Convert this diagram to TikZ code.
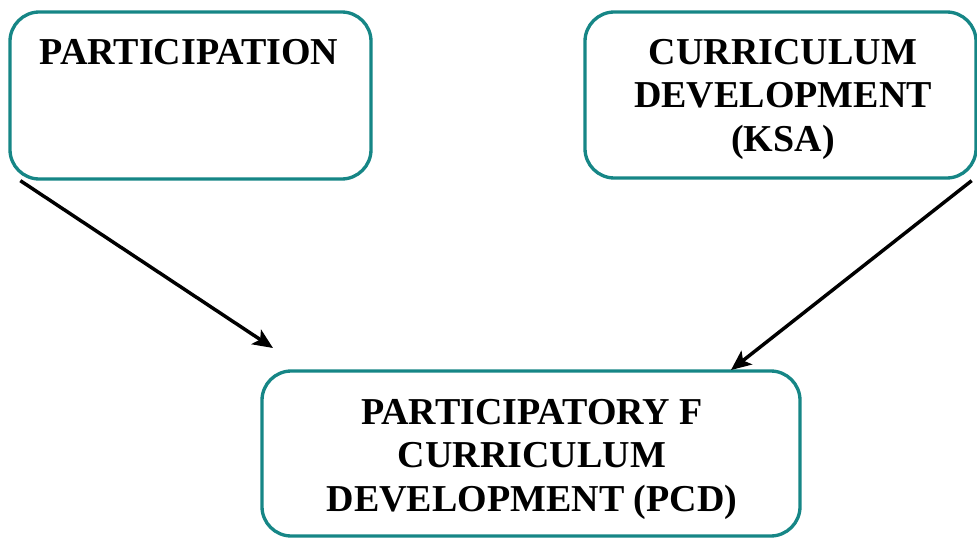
\documentclass[tikz,border=0pt]{standalone}
\usepackage{fontspec}
\setmainfont{Liberation Serif}
\usetikzlibrary{arrows.meta,calc}
\definecolor{boxteal}{RGB}{22,134,134}
\tikzset{
  panel/.style={draw=boxteal, line width=2.5pt, rounded corners=22pt, inner sep=0pt},
  caption/.style={font=\fontsize{28.5}{32.5}\selectfont\bfseries, align=center, inner sep=0pt, anchor=north},
  link/.style={line width=2.6pt, -{Stealth[length=15pt,width=13pt,inset=3.5pt]}}
}
\begin{document}
\begin{tikzpicture}[x=0.75pt,y=-0.75pt]
  \useasboundingbox (0,0) rectangle (977,538);
  % three rounded panels
  \node[panel, minimum width=270.75pt, minimum height=125.25pt] (part) at (190.5,95.5) {};
  \node[panel, minimum width=293.25pt, minimum height=124.5pt] (curr) at (780.5,95) {};
  \node[panel, minimum width=403.5pt, minimum height=123.75pt] (pcd) at (531,453.5) {};
  % panel captions
  \node[caption] (partT) at (189,39) {PARTICIPATION};
  \node[caption] (currT) at (783,39) {CURRICULUM\\DEVELOPMENT\\(KSA)};
  \node[caption] (pcdT) at (532,399) {PARTICIPATORY F\\CURRICULUM\\DEVELOPMENT (PCD)};
  % arrow ends
  \coordinate (s1) at ($(part.south west)+(12,0)$);
  \coordinate (e1) at (273,348);
  \coordinate (s2) at ($(curr.south east)+(-6,1)$);
  \coordinate (e2) at (731,370);
  \draw[link] (s1) -- (e1);
  \draw[link] (s2) -- (e2);
\end{tikzpicture}
\end{document}
